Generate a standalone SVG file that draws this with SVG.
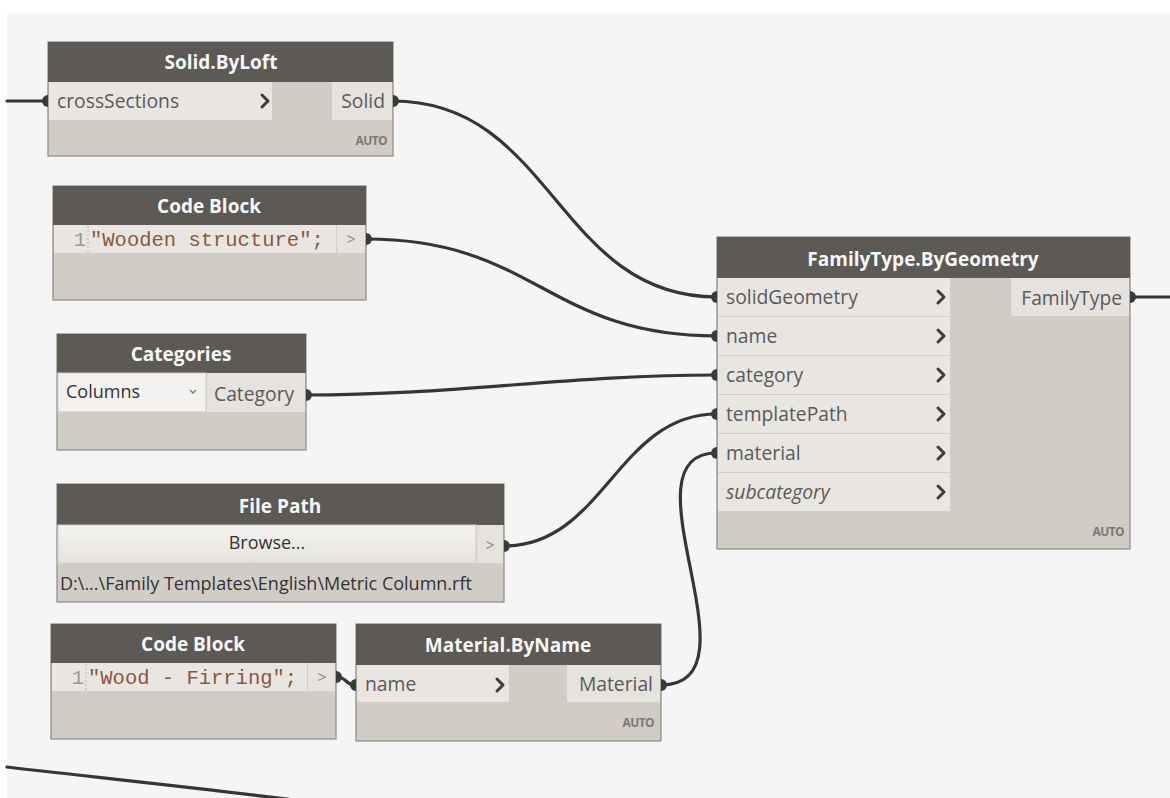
<svg xmlns="http://www.w3.org/2000/svg" width="1170" height="798" viewBox="0 0 1170 798">
  <style>
    .node-box { fill: #d2ccc6; stroke: #8c8882; stroke-width: 1.2; }
    .node-head { fill: #5d5955; }
    .title { font-family: "Open Sans", "Liberation Sans", sans-serif; font-size: 19px; font-weight: bold; fill: #f7f7f7; text-anchor: middle; }
    .port-in { fill: #e9e6e2; }
    .port-out { fill: #e6e2de; }
    .lbl { font-family: "Open Sans", "Liberation Sans", sans-serif; font-size: 19.3px; fill: #5a5a5a; }
    .lbl-r { text-anchor: end; }
    .ital { font-style: italic; }
    .auto { font-family: "Open Sans", "Liberation Sans", sans-serif; font-size: 12px; font-weight: bold; fill: #7d7873; text-anchor: end; letter-spacing: -0.6px; }
    .chev { fill: none; stroke: #3d3d3d; stroke-width: 3; stroke-linecap: round; stroke-linejoin: round; }
    .code { font-family: "Liberation Mono", "DejaVu Sans Mono", monospace; font-size: 20.5px; fill: #8a5a3c; }
    .lnum { font-family: "Liberation Mono", "DejaVu Sans Mono", monospace; font-size: 20.5px; fill: #9a9a9a; text-anchor: end; }
    .gt { font-family: "Open Sans", "Liberation Sans", sans-serif; font-size: 16px; fill: #8a8a8a; text-anchor: middle; }
    .plain { font-family: "Open Sans", "Liberation Sans", sans-serif; font-size: 18px; fill: #333333; }
    .wire { fill: none; stroke: #363636; stroke-width: 3.2; stroke-linecap: round; }
    .pin { fill: #3a3a3a; }
  </style>
  <defs>
    <linearGradient id="btnGrad" x1="0" y1="0" x2="0" y2="1">
      <stop offset="0" stop-color="#f4f3f1"/>
      <stop offset="1" stop-color="#e6e3df"/>
    </linearGradient>
  </defs>

  <!-- canvas -->
  <rect x="0" y="0" width="1170" height="798" fill="#ffffff"/>
  <rect x="7" y="13" width="1163" height="785" fill="#f5f5f5"/>

  <!-- connectors -->
  <g id="connectors">
    <path class="wire" d="M7,101 L48,101"/>
    <path class="wire" d="M393,101 C553,101 557,297 717,297"/>
    <path class="wire" d="M366,239 C536,239 547,336 717,336"/>
    <path class="wire" d="M306,395 C456,395 567,375 717,375"/>
    <path class="wire" d="M504,546 C604,546 617,414 717,414"/>
    <path class="wire" d="M336,677 C348,677 344,685 356,685"/>
    <path class="wire" d="M661,685 C765,685 617,453 717,453"/>
    <path class="wire" d="M1130,297 L1170,297"/>
    <path class="wire" d="M7,767 C110,779 210,789 310,802"/>
  </g>

  <!-- Solid.ByLoft -->
  <g id="node-solid-byloft">
    <rect class="node-box" x="48" y="42" width="345" height="114"/>
    <rect class="node-head" x="48" y="42" width="345" height="40"/>
    <text class="title" x="221" y="69">Solid.ByLoft</text>
    <rect class="port-in" x="49" y="82" width="223" height="38"/>
    <text class="lbl" x="57" y="108">crossSections</text>
    <polyline class="chev" points="262,95 268,101 262,107"/>
    <rect class="port-out" x="332" y="82" width="60" height="38"/>
    <text class="lbl lbl-r" x="385" y="108">Solid</text>
    <text class="auto" x="387" y="145">AUTO</text>
    <path class="pin" d="M48,95 A6,6 0 0 0 48,107 Z"/>
    <path class="pin" d="M393,95 A6,6 0 0 1 393,107 Z"/>
  </g>

  <!-- Code Block (name) -->
  <g id="node-codeblock-name">
    <rect class="node-box" x="53" y="186" width="313" height="114"/>
    <rect class="node-head" x="53" y="186" width="313" height="39"/>
    <text class="title" x="209" y="213">Code Block</text>
    <rect class="port-in" x="54" y="225" width="282" height="28"/>
    <rect class="port-out" x="337" y="225" width="28" height="28"/>
    <line x1="88" y1="226" x2="88" y2="252" stroke="#b5b0aa" stroke-width="1" stroke-dasharray="2,2"/>
    <text class="lnum" x="86" y="246">1</text>
    <text class="code" x="90" y="246">"Wooden structure";</text>
    <text class="gt" x="351" y="245">&gt;</text>
    <path class="pin" d="M366,233 A6,6 0 0 1 366,245 Z"/>
  </g>

  <!-- Categories -->
  <g id="node-categories">
    <rect class="node-box" x="57" y="334" width="249" height="116"/>
    <rect class="node-head" x="57" y="334" width="249" height="39"/>
    <text class="title" x="181" y="361">Categories</text>
    <rect x="58" y="373" width="148" height="39" fill="#f3f2f0" stroke="#cfcac4" stroke-width="1"/>
    <text class="plain" x="66" y="398">Columns</text>
    <polyline points="190,390 193,393 196,390" fill="none" stroke="#777" stroke-width="1.3"/>
    <rect class="port-out" x="207" y="373" width="98" height="39"/>
    <text class="lbl" x="214" y="401">Category</text>
    <path class="pin" d="M306,389 A6,6 0 0 1 306,401 Z"/>
  </g>

  <!-- File Path -->
  <g id="node-file-path">
    <rect class="node-box" x="57" y="484" width="447" height="118"/>
    <rect class="node-head" x="57" y="484" width="447" height="41"/>
    <text class="title" x="280" y="513">File Path</text>
    <rect x="58" y="525" width="418" height="38" fill="url(#btnGrad)" stroke="#d0cbc5" stroke-width="1"/>
    <text class="plain" x="267" y="549" text-anchor="middle">Browse...</text>
    <rect class="port-out" x="477" y="525" width="26" height="38"/>
    <text class="gt" x="490" y="551">&gt;</text>
    <text class="plain" x="60" y="590">D:\...\Family Templates\English\Metric Column.rft</text>
    <path class="pin" d="M504,540 A6,6 0 0 1 504,552 Z"/>
  </g>

  <!-- Code Block (material name) -->
  <g id="node-codeblock-material">
    <rect class="node-box" x="51" y="624" width="285" height="115"/>
    <rect class="node-head" x="51" y="624" width="285" height="39"/>
    <text class="title" x="193" y="651">Code Block</text>
    <rect class="port-in" x="52" y="663" width="255" height="28"/>
    <rect class="port-out" x="308" y="663" width="27" height="28"/>
    <line x1="86" y1="664" x2="86" y2="690" stroke="#b5b0aa" stroke-width="1" stroke-dasharray="2,2"/>
    <text class="lnum" x="84" y="684">1</text>
    <text class="code" x="88" y="684">"Wood - Firring";</text>
    <text class="gt" x="322" y="683">&gt;</text>
    <path class="pin" d="M336,671 A6,6 0 0 1 336,683 Z"/>
  </g>

  <!-- Material.ByName -->
  <g id="node-material-byname">
    <rect class="node-box" x="356" y="624" width="305" height="117"/>
    <rect class="node-head" x="356" y="624" width="305" height="41"/>
    <text class="title" x="508" y="652">Material.ByName</text>
    <rect class="port-in" x="357" y="665" width="152" height="37"/>
    <text class="lbl" x="365" y="691">name</text>
    <polyline class="chev" points="497,679 503,685 497,691"/>
    <rect class="port-out" x="567" y="665" width="93" height="37"/>
    <text class="lbl lbl-r" x="653" y="691">Material</text>
    <text class="auto" x="654" y="727">AUTO</text>
    <path class="pin" d="M356,679 A6,6 0 0 0 356,691 Z"/>
    <path class="pin" d="M661,679 A6,6 0 0 1 661,691 Z"/>
  </g>

  <!-- FamilyType.ByGeometry -->
  <g id="node-familytype-bygeometry">
    <rect class="node-box" x="717" y="237" width="413" height="312"/>
    <rect class="node-head" x="717" y="237" width="413" height="41"/>
    <text class="title" x="923" y="266">FamilyType.ByGeometry</text>
    <rect class="port-in" x="718" y="278" width="232" height="38"/>
    <rect class="port-in" x="718" y="317" width="232" height="38"/>
    <rect class="port-in" x="718" y="356" width="232" height="38"/>
    <rect class="port-in" x="718" y="395" width="232" height="38"/>
    <rect class="port-in" x="718" y="434" width="232" height="38"/>
    <rect class="port-in" x="718" y="473" width="232" height="38"/>
    <text class="lbl" x="726" y="304">solidGeometry</text>
    <text class="lbl" x="726" y="343">name</text>
    <text class="lbl" x="726" y="382">category</text>
    <text class="lbl" x="726" y="421">templatePath</text>
    <text class="lbl" x="726" y="460">material</text>
    <text class="lbl ital" x="726" y="499">subcategory</text>
    <polyline class="chev" points="938,291 944,297 938,303"/>
    <polyline class="chev" points="938,330 944,336 938,342"/>
    <polyline class="chev" points="938,369 944,375 938,381"/>
    <polyline class="chev" points="938,408 944,414 938,420"/>
    <polyline class="chev" points="938,447 944,453 938,459"/>
    <polyline class="chev" points="938,486 944,492 938,498"/>
    <rect class="port-out" x="1011" y="278" width="118" height="38"/>
    <text class="lbl lbl-r" x="1122" y="305">FamilyType</text>
    <text class="auto" x="1124" y="536">AUTO</text>
    <path class="pin" d="M717,291 A6,6 0 0 0 717,303 Z"/>
    <path class="pin" d="M717,330 A6,6 0 0 0 717,342 Z"/>
    <path class="pin" d="M717,369 A6,6 0 0 0 717,381 Z"/>
    <path class="pin" d="M717,408 A6,6 0 0 0 717,420 Z"/>
    <path class="pin" d="M717,447 A6,6 0 0 0 717,459 Z"/>
    <path class="pin" d="M1130,291 A6,6 0 0 1 1130,303 Z"/>
  </g>
</svg>
